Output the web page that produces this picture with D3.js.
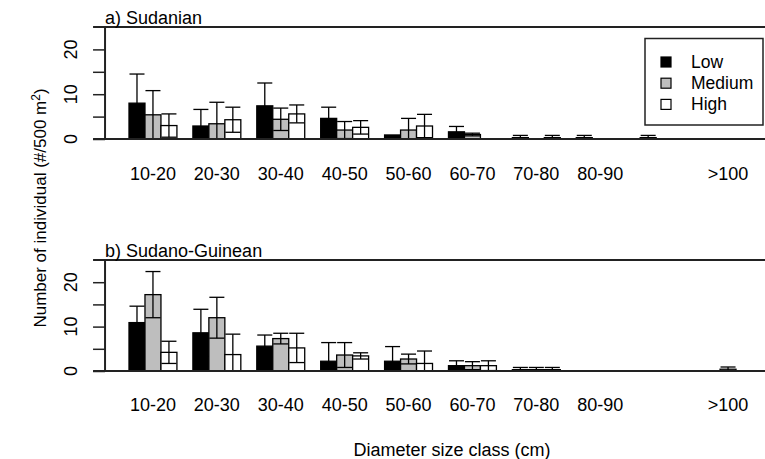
<!DOCTYPE html>
<html>
<head>
<meta charset="utf-8">
<script src="https://cdn.jsdelivr.net/npm/d3@7"></script>
<style>
  body { margin:0; background:#fff; }
  text { font-family: "Liberation Sans", Arial, Helvetica, sans-serif; fill:#000; }
</style>
</head>
<body>
<svg id="chart" width="765" height="459"></svg>
<script>
// diameter classes, tick labels (R dropped "90-100" because it overlapped)
var sizeClasses = ["10-20","20-30","30-40","40-50","50-60","60-70","70-80","80-90","90-100",">100"];
var tickLabels  = ["10-20","20-30","30-40","40-50","50-60","60-70","70-80","80-90","",">100"];
var levels = ["Low","Medium","High"];
var levelFill = ["#000000","#bebebe","#ffffff"];

// a) Sudanian : means and sd
var sudLow     = [8.0, 2.9, 7.4, 4.6, 0.9, 1.6, 0.3, 0.3, 0.3, 0];
var sudLowSd   = [6.5, 3.7, 5.1, 2.5, 0,   1.2, 0.5, 0.5, 0.5, 0];
var sudMed     = [5.4, 3.4, 4.4, 2.0, 2.0, 1.0, 0,   0,   0,   0];
var sudMedSd   = [5.4, 4.8, 2.5, 1.9, 2.6, 0.3, 0,   0,   0,   0];
var sudHigh    = [3.0, 4.3, 5.6, 2.6, 2.9, 0,   0.3, 0,   0,   0];
var sudHighSd  = [2.6, 2.8, 2.0, 1.5, 2.6, 0,   0.5, 0,   0,   0];

// b) Sudano-Guinean : means and sd
var sgLow      = [10.9, 8.6, 5.6, 2.2, 2.2, 1.2, 0.3, 0, 0, 0];
var sgLowSd    = [3.7,  5.3, 2.5, 4.2, 3.3, 1.1, 0.5, 0, 0, 0];
var sgMed      = [17.2, 12.0, 7.3, 3.6, 2.7, 1.2, 0.3, 0, 0, 0.4];
var sgMedSd    = [5.2,  4.6,  1.2, 2.8, 1.1, 0.9, 0.5, 0, 0, 0.5];
var sgHigh     = [4.2, 3.7, 5.2, 3.4, 1.7, 1.2, 0.3, 0, 0, 0];
var sgHighSd   = [2.5, 4.6, 3.3, 0.7, 2.8, 1.1, 0.5, 0, 0, 0];

var yTicks = [0, 5, 10, 15, 20];
var yLabels = [0, 10, 20];

var svg = d3.select("#chart");

// barplot units: bar width 1, one unit of space before each group
var x = d3.scaleLinear().domain([1, 40]).range([129, 752]);
var axisX = x(-0.5);
var lineStart = x(-1.25);

function drawPanel(title, means, sds, bottom, top, labelY) {
  var y = d3.scaleLinear().domain([0, 25]).range([bottom, top]);
  var g = svg.append("g");

  // frame line on top
  g.append("line").attr("x1", lineStart).attr("x2", 765).attr("y1", y(25)).attr("y2", y(25))
    .attr("stroke", "#222").attr("stroke-width", 2);

  // bars
  var rows = [];
  sizeClasses.forEach(function(c, i) {
    levels.forEach(function(l, s) {
      rows.push({cls:i, lev:s, m:means[s][i], sd:sds[s][i], u:1 + 4*i + s});
    });
  });

  g.selectAll(".bar").data(rows).enter().append("rect")
    .attr("class", "bar")
    .attr("x", function(d){ return x(d.u); })
    .attr("width", x(2) - x(1))
    .attr("y", function(d){ return y(d.m); })
    .attr("height", function(d){ return y(0) - y(d.m); })
    .attr("fill", function(d){ return levelFill[d.lev]; })
    .attr("stroke", "#000").attr("stroke-width", 1.3);

  // error bars (both ends capped, clipped at 0)
  var eb = rows.filter(function(d){ return d.sd > 0; });
  var ebG = g.selectAll(".eb").data(eb).enter().append("g").attr("class", "eb")
    .attr("stroke", "#000").attr("stroke-width", 1.3);
  ebG.append("line")
    .attr("x1", function(d){ return x(d.u + 0.5); })
    .attr("x2", function(d){ return x(d.u + 0.5); })
    .attr("y1", function(d){ return y(Math.max(0, d.m - d.sd)); })
    .attr("y2", function(d){ return y(d.m + d.sd); });
  ebG.append("line")
    .attr("x1", function(d){ return x(d.u + 0.03); })
    .attr("x2", function(d){ return x(d.u + 0.97); })
    .attr("y1", function(d){ return y(d.m + d.sd); })
    .attr("y2", function(d){ return y(d.m + d.sd); });
  ebG.filter(function(d){ return d.m - d.sd > 0; }).append("line")
    .attr("x1", function(d){ return x(d.u + 0.03); })
    .attr("x2", function(d){ return x(d.u + 0.97); })
    .attr("y1", function(d){ return y(d.m - d.sd); })
    .attr("y2", function(d){ return y(d.m - d.sd); });

  g.append("line").attr("x1", lineStart).attr("x2", 765).attr("y1", y(0)).attr("y2", y(0))
    .attr("stroke", "#222").attr("stroke-width", 2);

  // y axis, R style
  var yAxis = d3.axisLeft(y).tickValues(yTicks).tickSize(12).tickFormat("");
  var ya = g.append("g").attr("transform", "translate(" + axisX + ",0)").call(yAxis);
  ya.select(".domain").attr("d", "M0," + y(25) + "V" + y(0)).attr("stroke", "#222").attr("stroke-width", 2);
  ya.selectAll(".tick line").attr("stroke", "#222").attr("stroke-width", 1.5);

  g.selectAll(".ylab").data(yLabels).enter().append("text")
    .attr("class", "ylab")
    .attr("transform", function(d){ return "translate(77," + y(d) + ") rotate(-90)"; })
    .attr("text-anchor", "middle")
    .style("font-size", "18px")
    .text(function(d){ return d; });

  // x labels under the middle of each group
  g.selectAll(".xlab").data(tickLabels).enter().append("text")
    .attr("class", "xlab")
    .attr("x", function(d, i){ return x(2.5 + 4*i); })
    .attr("y", labelY)
    .attr("text-anchor", "middle")
    .style("font-size", "18px")
    .text(function(d){ return d; });

  g.append("text").attr("x", axisX).attr("y", y(25) - 3.5)
    .style("font-size", "18px").text(title);
}

drawPanel("a) Sudanian", [sudLow, sudMed, sudHigh], [sudLowSd, sudMedSd, sudHighSd], 139, 27, 179.5);
drawPanel("b) Sudano-Guinean", [sgLow, sgMed, sgHigh], [sgLowSd, sgMedSd, sgHighSd], 371, 260, 411);

// legend
var leg = svg.append("g");
leg.append("rect").attr("x", 645).attr("y", 38.5).attr("width", 118).attr("height", 86.5)
  .attr("fill", "#fff").attr("stroke", "#222").attr("stroke-width", 1.5);
var li = leg.selectAll(".li").data(levels).enter().append("g")
  .attr("transform", function(d, i){ return "translate(661," + (57 + 21.2*i) + ")"; });
li.append("rect").attr("width", 10).attr("height", 10)
  .attr("fill", function(d, i){ return levelFill[i]; })
  .attr("stroke", "#000").attr("stroke-width", 1.2);
li.append("text").attr("x", 30).attr("y", 10.5).style("font-size", "17.5px").text(function(d){ return d; });

// axis titles
var yt = svg.append("text")
  .attr("transform", "translate(46,208) rotate(-90)")
  .attr("text-anchor", "middle")
  .style("font-size", "17px");
yt.append("tspan").text("Number of individual (#/500 m");
yt.append("tspan").attr("dy", -6).style("font-size", "12px").text("2");
yt.append("tspan").attr("dy", 6).text(")");

svg.append("text").attr("x", 452).attr("y", 456).attr("text-anchor", "middle")
  .style("font-size", "18px").text("Diameter size class (cm)");
</script>
</body>
</html>
